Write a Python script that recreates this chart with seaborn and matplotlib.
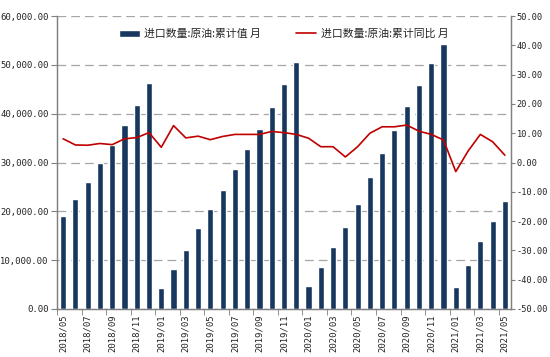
import numpy as np
import pandas as pd
import matplotlib
matplotlib.use('Agg')
import matplotlib.pyplot as plt
import seaborn as sns
from matplotlib.ticker import FuncFormatter, FixedLocator

# data
months = ['2018/05', '2018/06', '2018/07', '2018/08', '2018/09', '2018/10', '2018/11', '2018/12',
          '2019/01', '2019/02', '2019/03', '2019/04', '2019/05', '2019/06', '2019/07', '2019/08',
          '2019/09', '2019/10', '2019/11', '2019/12',
          '2020/01', '2020/02', '2020/03', '2020/04', '2020/05', '2020/06', '2020/07', '2020/08',
          '2020/09', '2020/10', '2020/11', '2020/12',
          '2021/01', '2021/02', '2021/03', '2021/04', '2021/05']
cum_value = [19050, 22430, 26100, 29900, 33600, 37650, 41850, 46200,
             4300, 8250, 12100, 16600, 20550, 24300, 28750, 32700,
             36900, 41300, 46000, 50500,
             4700, 8700, 12700, 16700, 21500, 26950, 32050, 36750,
             41550, 45850, 50300, 54200,
             4550, 9000, 14000, 18000, 22050]
cum_yoy = [8.1, 6.0, 5.9, 6.5, 6.1, 8.1, 8.5, 10.2,
           5.2, 12.6, 8.4, 9.0, 7.8, 8.9, 9.6, 9.6,
           9.6, 10.6, 10.2, 9.6,
           8.3, 5.4, 5.4, 1.9, 5.4, 10.0, 12.2, 12.2,
           12.8, 10.7, 9.6, 7.7,
           -3.1, 3.9, 9.6, 7.1, 2.5]

bar_label = '进口数量:原油:累计值 月'
line_label = '进口数量:原油:累计同比 月'

df = pd.DataFrame({'month': months, 'value': cum_value, 'yoy': cum_yoy})

sns.set_style('white')
plt.rcParams['font.family'] = ['Noto Sans CJK SC', 'DejaVu Sans']

fig = plt.figure(figsize=(5.5, 3.57), dpi=100)
ax = fig.add_axes([0.1036, 0.1345, 0.8255, 0.8205])
ax2 = ax.twinx()

sns.barplot(data=df, x='month', y='value', color='#17375E', width=0.5,
            saturation=1, ax=ax, label=bar_label, zorder=3)
sns.lineplot(x=np.arange(len(months)), y=df['yoy'], color='#C00000', linewidth=1.2,
             ax=ax2, label=line_label)

ax.set_xlim(-0.5, len(months) - 0.5)
ax.set_ylim(0, 60000)
ax2.set_ylim(-50, 50)
ax.set_yticks(np.arange(0, 60001, 10000))
ax2.set_yticks(np.arange(-50, 51, 10))
ax.yaxis.set_major_formatter(FuncFormatter(lambda v, p: f'{v:,.2f}'))
ax2.yaxis.set_major_formatter(FuncFormatter(lambda v, p: f'{v:.2f}'))

ax.set_xlabel('')
ax.set_ylabel('')
ax2.set_ylabel('')

# tick labels every other month, tick marks on category boundaries
ax.xaxis.set_major_locator(FixedLocator(np.arange(0, len(months), 2)))
ax.set_xticklabels(months[::2], rotation=90)
ax.xaxis.set_minor_locator(FixedLocator(np.arange(-0.5, len(months), 2)))
ax.tick_params(axis='x', which='major', length=0, pad=4)
ax.tick_params(axis='x', which='minor', length=4, color='#808080', direction='out', bottom=True)
ax.tick_params(axis='y', length=4, color='#808080', left=True, pad=2)
ax2.tick_params(axis='y', length=3, color='#808080', right=True, pad=1)

mono = 'DejaVu Sans Mono'
for lbl in ax.get_xticklabels() + ax.get_yticklabels():
    lbl.set_family(mono)
    lbl.set_fontsize(6.4)
    lbl.set_color('#222222')
for lbl in ax2.get_yticklabels():
    lbl.set_family(mono)
    lbl.set_fontsize(6.2)
    lbl.set_color('#222222')

ax.yaxis.grid(True, linestyle=(0, (7, 4)), color='#A6A6A6', linewidth=0.9)
ax.set_axisbelow(True)
ax2.grid(False)

for a in (ax, ax2):
    a.spines['top'].set_visible(False)
    for s in ('left', 'right', 'bottom'):
        a.spines[s].set_color('#808080')
        a.spines[s].set_linewidth(0.9)

# legend
h1, l1 = ax.get_legend_handles_labels()
h2, l2 = ax2.get_legend_handles_labels()
if ax.get_legend():
    ax.get_legend().remove()
if ax2.get_legend():
    ax2.get_legend().remove()
ax2.legend(h1 + h2, l1 + l2, loc='upper center', bbox_to_anchor=(0.5, 0.99), ncol=2,
           frameon=False, fontsize=7.8, columnspacing=3.2, handlelength=1.9,
           handleheight=0.6, handletextpad=0.4)

plt.savefig('out.png', dpi=100)
plt.close()
